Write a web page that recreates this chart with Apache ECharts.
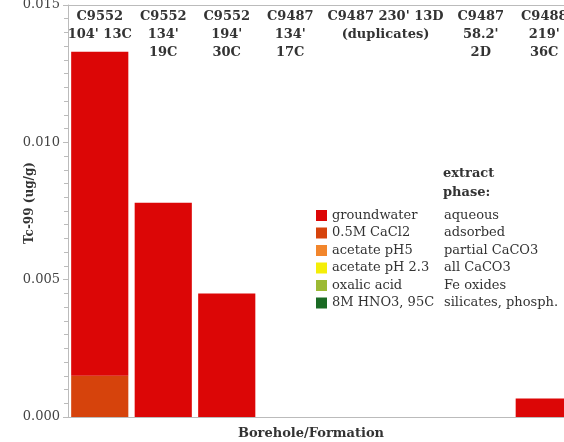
<!DOCTYPE html>
<html>
<head>
<meta charset="utf-8">
<script src="https://cdn.jsdelivr.net/npm/echarts@6/dist/echarts.min.js"></script>
<style>
  html, body { margin: 0; padding: 0; background: #fff; }
  #chart { width: 564px; height: 442px; }
</style>
</head>
<body>
<div id="chart"></div>
<script>
  // one slot per sample, slots 4 and 5 are the 230' duplicates
  const categories = ["C9552 104' 13C", "C9552 134' 19C", "C9552 194' 30C", "C9487 134' 17C",
    "C9487 230' 13D a", "C9487 230' 13D b", "C9487 58.2' 2D", "C9488 219' 36C"]
  const topLabels = ["C9552\n104' 13C", "C9552\n134'\n19C", "C9552\n194'\n30C", "C9487\n134'\n17C",
    '', '', "C9487\n58.2'\n2D", "C9488\n219'\n36C"]
  const dupLabel = "C9487 230' 13D\n(duplicates)"

  // Tc-99 (ug/g) per extraction step
  const groundwater = [0.0118, 0.0078, 0.0045, 0, 0, 0, 0, 0.00067]
  const cacl2 = [0.0015, 0, 0, 0, 0, 0, 0, 0]
  const acetatePh5 = [0, 0, 0, 0, 0, 0, 0, 0]
  const acetatePh23 = [0, 0, 0, 0, 0, 0, 0, 0]
  const oxalic = [0, 0, 0, 0, 0, 0, 0, 0]
  const hno3 = [0, 0, 0, 0, 0, 0, 0, 0]

  const extracts = ['groundwater', '0.5M CaCl2', 'acetate pH5', 'acetate pH 2.3', 'oxalic acid', '8M HNO3, 95C']
  const phases = ['aqueous', 'adsorbed', 'partial CaCO3', 'all CaCO3', 'Fe oxides', 'silicates, phosph.']
  const colors = ['#dc0606', '#d6430c', '#f2862c', '#f4ee08', '#9cba34', '#1a6a24']

  const serif = 'DejaVu Serif'
  const chart = echarts.init(document.getElementById('chart'))

  const values = [groundwater, cacl2, acetatePh5, acetatePh23, oxalic, hno3]
  // stacked bottom-up: HNO3 ... CaCl2, groundwater on top
  const series = []
  for (let i = extracts.length - 1; i >= 0; i--) {
    series.push({
      name: extracts[i],
      type: 'bar',
      stack: 'tc',
      barCategoryGap: '10%',
      itemStyle: { color: colors[i] },
      data: values[i]
    })
  }

  chart.setOption({
    animation: false,
    color: colors,
    grid: { left: 68, right: -12, top: 5, bottom: 25, outerBoundsMode: 'none' },
    legend: {
      orient: 'vertical',
      left: 311,
      top: 204,
      icon: 'rect',
      itemWidth: 11,
      itemHeight: 11,
      itemGap: 4.5,
      data: extracts,
      formatter: function (name) {
        return '{n|' + name + '}{p|' + phases[extracts.indexOf(name)] + '}'
      },
      textStyle: {
        fontFamily: serif,
        fontSize: 13,
        color: '#333',
        rich: {
          n: { width: 112, fontFamily: serif, fontSize: 13, color: '#333' },
          p: { fontFamily: serif, fontSize: 13, color: '#333' }
        }
      }
    },
    xAxis: [
      {
        type: 'category',
        data: categories,
        position: 'bottom',
        axisLine: { lineStyle: { color: '#bbb' } },
        axisTick: { show: false },
        axisLabel: { show: false },
        name: 'Borehole/Formation',
        nameLocation: 'middle',
        nameGap: 10,
        nameTextStyle: { fontFamily: serif, fontWeight: 'bold', fontSize: 13, color: '#333', padding: [0, 22, 0, 0] }
      },
      {
        type: 'category',
        data: categories,
        position: 'top',
        axisLine: { lineStyle: { color: '#bbb' } },
        axisTick: { show: false },
        axisLabel: {
          inside: true,
          margin: 3,
          verticalAlign: 'top',
          interval: 0,
          fontFamily: serif,
          fontWeight: 'bold',
          fontSize: 13,
          lineHeight: 18,
          color: '#333',
          formatter: (v, i) => topLabels[i]
        }
      }
    ],
    yAxis: {
      type: 'value',
      min: 0,
      max: 0.015,
      interval: 0.005,
      name: 'Tc-99 (ug/g)',
      nameLocation: 'middle',
      nameGap: 32,
      nameMoveOverlap: false,
      nameRotate: 90,
      nameTextStyle: { fontFamily: serif, fontWeight: 'bold', fontSize: 12, color: '#333', padding: [0, 0, 0, 16] },
      axisLine: { show: true, lineStyle: { color: '#bbb' } },
      axisTick: { show: true, length: 5, lineStyle: { color: '#bbb' } },
      minorTick: { show: true, splitNumber: 10, length: 4, lineStyle: { color: '#bbb' } },
      splitLine: { show: false },
      axisLabel: {
        margin: 8,
        fontFamily: serif,
        fontSize: 13,
        color: '#444',
        formatter: v => v.toFixed(3)
      }
    },
    series: series
  })

  // duplicates label sits across slots 4 and 5
  const x4 = chart.convertToPixel({ xAxisIndex: 1 }, categories[4])
  const x5 = chart.convertToPixel({ xAxisIndex: 1 }, categories[5])
  chart.setOption({
    graphic: [
      {
        type: 'text',
        x: (x4 + x5) / 2,
        y: 8,
        style: {
          text: dupLabel,
          align: 'center',
          verticalAlign: 'top',
          fontFamily: serif,
          fontWeight: 'bold',
          fontSize: 13,
          lineHeight: 18,
          fill: '#333'
        }
      },
      {
        type: 'text',
        x: 443,
        y: 164,
        style: {
          text: 'extract\nphase:',
          verticalAlign: 'top',
          fontFamily: serif,
          fontWeight: 'bold',
          fontSize: 13,
          lineHeight: 19,
          fill: '#333'
        }
      }
    ]
  })
</script>
</body>
</html>
